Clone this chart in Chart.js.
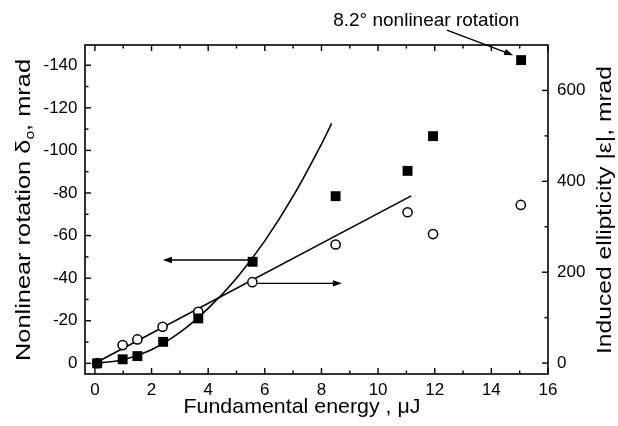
<!DOCTYPE html>
<html><head><meta charset="utf-8">
<script src="https://cdn.jsdelivr.net/npm/chart.js@4"></script>
<style>html,body{margin:0;padding:0;background:#fff}#wrap{width:618px;height:426px}</style>
</head><body><div id="wrap"><canvas id="c"></canvas></div>
<script>
// ---- data ----
const energySquares = [0.08, 0.98, 1.5, 2.41, 3.65, 5.57, 8.5, 11.04, 11.94, 15.05];
const rotationSquares = [0, -1.9, -3.4, -10.1, -21.1, -47.7, -78.5, -90.4, -106.7, -142.4];
const energyCircles = [0.08, 0.98, 1.5, 2.39, 3.65, 5.56, 8.5, 11.04, 11.94, 15.04];
const ellipticityCircles = [0, 39.6, 52, 80, 113, 178, 261, 332, 284, 348];
const fitRotationX = [0, 1, 2, 3, 4, 5, 6, 7, 8, 8.36];
const fitRotationY = [0, -1.7, -6.4, -14.5, -25.8, -40, -57.5, -78.5, -103, -112.7];
const fitEllipX = [0.1, 11.17];
const fitEllipY = [3, 368];
const xTickValues = [0, 2, 4, 6, 8, 10, 12, 14, 16];
const xMinorValues = [1, 3, 5, 7, 9, 11, 13, 15];
const leftTickValues = [0, -20, -40, -60, -80, -100, -120, -140];
const leftMinorValues = [-10, -30, -50, -70, -90, -110, -130];
const rightTickValues = [0, 200, 400, 600];
const rightMinorValues = [100, 300, 500];
// annotation arrows (data units): [x1, y1, x2, y2]
const arrowToLeftAxis = [5.45, -48.5, 2.4, -48.5];
const arrowToRightAxis = [5.75, 175.5, 8.72, 175.5];
const annotationText = '8.2\u00B0 nonlinear rotation';
const annotationTextAt = [11.7, -161];
const annotationArrow = [12.43, -156.5, 14.77, -144.7];

const xTitle = 'Fundamental energy , \u03BCJ';
const leftTitleParts = ['Nonlinear rotation \u03B4', 'o', ', mrad'];
const rightTitle = 'Induced ellipticity |\u03B5|, mrad';

const FONT = '"Liberation Sans", Arial, Helvetica, sans-serif';

function pts(xs, ys) { return xs.map((x, i) => ({x: x, y: ys[i]})); }

function arrow(ctx, x1, y1, x2, y2) {
  const a = Math.atan2(y2 - y1, x2 - x1), L = 9, W = 3.2;
  ctx.beginPath(); ctx.moveTo(x1, y1);
  ctx.lineTo(x2 - Math.cos(a) * L * 0.8, y2 - Math.sin(a) * L * 0.8); ctx.stroke();
  ctx.beginPath(); ctx.moveTo(x2, y2);
  ctx.lineTo(x2 - Math.cos(a) * L - Math.sin(a) * W, y2 - Math.sin(a) * L + Math.cos(a) * W);
  ctx.lineTo(x2 - Math.cos(a) * L + Math.sin(a) * W, y2 - Math.sin(a) * L - Math.cos(a) * W);
  ctx.closePath(); ctx.fill();
}

// draws pieces of text [text, font, dy] centred at 0,0 and stretched along the text to a given length
function fittedText(ctx, pieces, length) {
  const widths = pieces.map(p => { ctx.font = p[1]; return ctx.measureText(p[0]).width; });
  const total = widths.reduce((a, b) => a + b, 0);
  ctx.save(); ctx.scale(length / total, 1);
  let sx = -total / 2; ctx.textAlign = 'left'; ctx.textBaseline = 'middle';
  pieces.forEach((p, i) => { ctx.font = p[1]; ctx.fillText(p[0], sx, p[2]); sx += widths[i]; });
  ctx.restore();
}

const framePlugin = {
  id: 'frame',
  afterDatasetsDraw(chart) {
    const ctx = chart.ctx, ca = chart.chartArea;
    const xs = chart.scales.x, yl = chart.scales.y, yr = chart.scales.y2;
    ctx.save();
    ctx.strokeStyle = '#000'; ctx.fillStyle = '#000'; ctx.lineWidth = 1.6;
    ctx.strokeRect(ca.left, ca.top, ca.right - ca.left, ca.bottom - ca.top);
    ctx.lineWidth = 1.4;
    const tick = (x1, y1, x2, y2) => { ctx.beginPath(); ctx.moveTo(x1, y1); ctx.lineTo(x2, y2); ctx.stroke(); };
    xTickValues.forEach(v => { const p = xs.getPixelForValue(v); tick(p, ca.bottom, p, ca.bottom - 6); tick(p, ca.top, p, ca.top + 6); });
    xMinorValues.forEach(v => { const p = xs.getPixelForValue(v); tick(p, ca.bottom, p, ca.bottom - 3.5); tick(p, ca.top, p, ca.top + 3.5); });
    leftTickValues.forEach(v => { const p = yl.getPixelForValue(v); tick(ca.left, p, ca.left + 6, p); });
    leftMinorValues.forEach(v => { const p = yl.getPixelForValue(v); tick(ca.left, p, ca.left + 3.5, p); });
    rightTickValues.forEach(v => { const p = yr.getPixelForValue(v); tick(ca.right, p, ca.right - 6, p); });
    rightMinorValues.forEach(v => { const p = yr.getPixelForValue(v); tick(ca.right, p, ca.right - 3.5, p); });

    // arrows
    ctx.lineWidth = 1.4;
    arrow(ctx, xs.getPixelForValue(arrowToLeftAxis[0]), yl.getPixelForValue(arrowToLeftAxis[1]),
               xs.getPixelForValue(arrowToLeftAxis[2]), yl.getPixelForValue(arrowToLeftAxis[3]));
    arrow(ctx, xs.getPixelForValue(arrowToRightAxis[0]), yr.getPixelForValue(arrowToRightAxis[1]),
               xs.getPixelForValue(arrowToRightAxis[2]), yr.getPixelForValue(arrowToRightAxis[3]));
    arrow(ctx, xs.getPixelForValue(annotationArrow[0]), yl.getPixelForValue(annotationArrow[1]),
               xs.getPixelForValue(annotationArrow[2]), yl.getPixelForValue(annotationArrow[3]));
    ctx.font = '19px ' + FONT; ctx.textAlign = 'center'; ctx.textBaseline = 'middle';
    ctx.fillText(annotationText, xs.getPixelForValue(annotationTextAt[0]), yl.getPixelForValue(annotationTextAt[1]));

    // axis titles
    const f1 = '21px ' + FONT, f2 = '13px ' + FONT;
    ctx.save(); ctx.translate(302, 407);
    fittedText(ctx, [[xTitle, f1, 0]], 237);
    ctx.restore();
    const cy = 210;
    ctx.save(); ctx.translate(24, cy); ctx.rotate(-Math.PI / 2);
    fittedText(ctx, [[leftTitleParts[0], f1, 0], [leftTitleParts[1], f2, 6], [leftTitleParts[2], f1, 0]], 302);
    ctx.restore();
    ctx.save(); ctx.translate(605, cy); ctx.rotate(-Math.PI / 2);
    fittedText(ctx, [[rightTitle, f1, 0]], 288);
    ctx.restore();
    ctx.restore();
  }
};

const tickFont = {family: FONT, size: 17};
new Chart(document.getElementById('c'), {
  type: 'scatter',
  data: {
    datasets: [
      {label: 'rotation', data: pts(energySquares, rotationSquares), yAxisID: 'y',
       pointStyle: 'rect', pointRadius: 7, backgroundColor: '#000', borderColor: '#000', borderWidth: 0, showLine: false},
      {label: 'ellipticity', data: pts(energyCircles, ellipticityCircles), yAxisID: 'y2',
       pointStyle: 'circle', pointRadius: 4.6, backgroundColor: '#fff', borderColor: '#000', borderWidth: 1.5, showLine: false},
      {label: 'fit rotation', data: pts(fitRotationX, fitRotationY), yAxisID: 'y', showLine: true,
       pointRadius: 0, borderColor: '#000', borderWidth: 1.6, tension: 0.4},
      {label: 'fit ellipticity', data: pts(fitEllipX, fitEllipY), yAxisID: 'y2', showLine: true,
       pointRadius: 0, borderColor: '#000', borderWidth: 1.6}
    ]
  },
  options: {
    responsive: true, maintainAspectRatio: false, animation: false,
    layout: {padding: {top: 45, left: 0, right: 0, bottom: 0}},
    plugins: {legend: {display: false}, tooltip: {enabled: false}},
    scales: {
      x: {type: 'linear', min: -0.35, max: 16,
          grid: {display: false, drawTicks: false, tickLength: 0}, border: {display: false},
          afterBuildTicks: s => { s.ticks = xTickValues.map(v => ({value: v})); },
          afterFit: s => { s.height = 52; },
          ticks: {font: tickFont, color: '#000', padding: 6, maxRotation: 0, autoSkip: false}},
      y: {type: 'linear', position: 'left', reverse: true, min: -149.5, max: 5,
          grid: {display: false, drawTicks: false, tickLength: 0}, border: {display: false},
          afterBuildTicks: s => { s.ticks = leftTickValues.map(v => ({value: v})); },
          afterFit: s => { s.width = 85; },
          ticks: {font: tickFont, color: '#000', padding: 7.5, autoSkip: false}},
      y2: {type: 'linear', position: 'right', min: -24, max: 700,
          grid: {display: false, drawTicks: false, tickLength: 0}, border: {display: false},
          afterBuildTicks: s => { s.ticks = rightTickValues.map(v => ({value: v})); },
          afterFit: s => { s.width = 70; },
          ticks: {font: tickFont, color: '#000', padding: 9, autoSkip: false}}
    }
  },
  plugins: [framePlugin]
});
</script></body></html>
